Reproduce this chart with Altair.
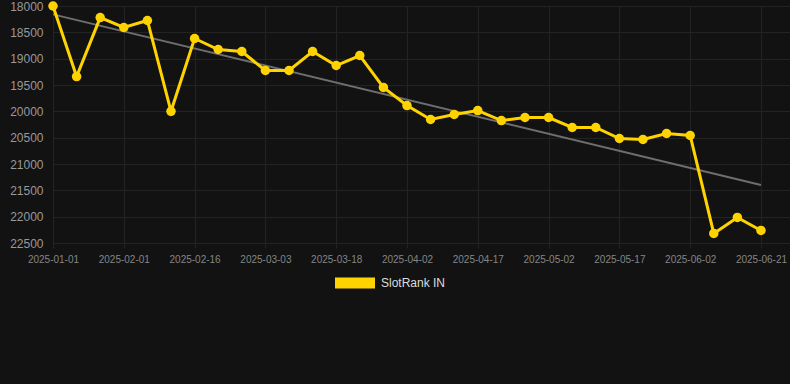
import altair as alt
import pandas as pd

dates = [
    "2025-01-01", "2025-01-11", "2025-01-21", "2025-02-01", "2025-02-06", "2025-02-11",
    "2025-02-16", "2025-02-21", "2025-02-26", "2025-03-03", "2025-03-08", "2025-03-13",
    "2025-03-18", "2025-03-23", "2025-03-28", "2025-04-02", "2025-04-07", "2025-04-12",
    "2025-04-17", "2025-04-22", "2025-04-27", "2025-05-02", "2025-05-07", "2025-05-12",
    "2025-05-17", "2025-05-22", "2025-05-27", "2025-06-02", "2025-06-08", "2025-06-14",
    "2025-06-21",
]
ranks = [
    18000, 19340, 18220, 18408, 18275, 20000, 18617, 18826, 18864, 19225, 19225,
    18864, 19130, 18940, 19547, 19890, 20155, 20060, 19985, 20175, 20117, 20117,
    20307, 20307, 20516, 20535, 20421, 20459, 22319, 22015, 22262,
]
series_name = "SlotRank IN"
y_ticks = [18000, 18500, 19000, 19500, 20000, 20500, 21000, 21500, 22000, 22500]
x_tick_idx = list(range(0, len(dates), 3))

df = pd.DataFrame({"idx": list(range(len(dates))), "date": dates, "rank": ranks,
                   "series": [series_name] * len(dates)})

gold = "#FFD300"
label_arr = "[" + ",".join("'%s'" % d for d in dates) + "]"

x = alt.X("idx:Q",
          scale=alt.Scale(domain=[0, 31.23], nice=False, zero=False),
          axis=alt.Axis(values=x_tick_idx, labelExpr=label_arr + "[datum.value]",
                        title=None, grid=True, gridColor="#232323", domain=False,
                        ticks=True, tickColor="#232323", tickSize=5,
                        labelColor="#858585", labelFontSize=10, labelPadding=6,
                        labelOverlap=False, labelFlush=False, labelBound=False,
                        labelFont="Liberation Sans"))
y = alt.Y("rank:Q",
          scale=alt.Scale(domain=[18000, 22500], reverse=True, nice=False, zero=False),
          axis=alt.Axis(values=y_ticks, format="d", title=None, grid=True,
                        gridColor="#232323", domain=False, ticks=False, labelPadding=10,
                        labelColor="#999999", labelFontSize=12, labelOverlap=False,
                        labelFont="Liberation Sans"))

base = alt.Chart(df)

trend = base.transform_regression("idx", "rank").mark_line(
    color="#6e6e6e", strokeWidth=2
).encode(x=x, y=y)

line = base.mark_line(color=gold, strokeWidth=3).encode(x=x, y=y)

points = base.mark_point(filled=True, size=90, opacity=1, clip=False).encode(
    x=x, y=y,
    color=alt.Color("series:N", scale=alt.Scale(range=[gold]),
                    legend=alt.Legend(title=None, orient="none", legendX=282, legendY=257,
                                      symbolType="M-1,-0.275H1V0.275H-1Z",
                                      symbolSize=1600, symbolStrokeWidth=0,
                                      symbolOpacity=1,
                                      labelColor="#dddddd", labelFontSize=12,
                                      labelFont="Liberation Sans",
                                      labelOffset=6, padding=0)),
)

chart = alt.layer(trend, line, points).properties(
    width=737, height=237,
    autosize=alt.AutoSizeParams(type="none"),
    padding={"left": 53, "top": 6, "right": 0, "bottom": 141},
    background="#121212",
).configure_view(stroke=None)

chart.save("out.html", embed_options={"renderer": "svg", "actions": False})
